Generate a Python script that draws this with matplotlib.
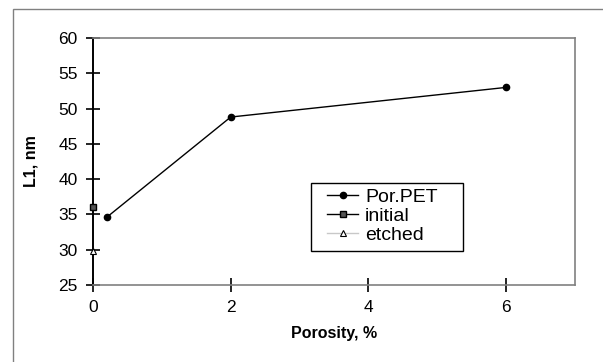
import matplotlib.pyplot as plt
import matplotlib.patches as patches

plt.rcParams['font.family'] = ['Liberation Sans', 'DejaVu Sans']

por_x = [0.2, 2, 6]
por_y = [34.6, 48.8, 53.0]
init_x = [0]
init_y = [36.0]
etch_x = [0]
etch_y = [29.8]

xticks = [0, 2, 4, 6]
yticks = [25, 30, 35, 40, 45, 50, 55, 60]

fig = plt.figure(figsize=(6.03, 3.62), dpi=100)
# outer chart frame, runs off the right and bottom edges
fig.patches.append(patches.Rectangle((12.5/603, -10/362), 620/603, (362 - 9.5 + 10)/362,
                                     transform=fig.transFigure, fill=False,
                                     edgecolor='#808080', lw=1))
ax = fig.add_axes([93/603, 77/362, 482/603, 247/362])

ax.plot(por_x, por_y, color='black', lw=1, marker='o', ms=4.5, label='Por.PET', clip_on=False)
ax.plot(init_x, init_y, color='black', lw=1, marker='s', ms=5, mfc='#555555', mec='black',
        label='initial', clip_on=False, zorder=5)
ax.plot(etch_x, etch_y, color='#c8c8c8', lw=1, marker='^', ms=5, mfc='white', mec='black',
        mew=0.8, label='etched', clip_on=False, zorder=5)

ax.set_xlim(0, 7)
ax.set_ylim(25, 60)
ax.set_xticks(xticks)
ax.set_yticks(yticks)
ax.tick_params(direction='inout', length=10, width=1.2, labelsize=12.5, pad=6, color='black')

for s in ['top', 'right', 'bottom']:
    ax.spines[s].set_color('#808080')
    ax.spines[s].set_linewidth(1.2)
ax.spines['left'].set_color('black')
ax.spines['left'].set_linewidth(1.4)

ax.set_xlabel('Porosity, %', fontsize=11.5, fontweight='bold', labelpad=8)
ax.set_ylabel('L1, nm', fontsize=11.5, fontweight='bold', labelpad=14)

# legend box drawn separately, Excel-style wide padding
ax.add_patch(patches.Rectangle((218/482, 34/247), 152/482, 68/247, transform=ax.transAxes,
                               fill=True, facecolor='white', edgecolor='black', lw=1, zorder=6))
leg = ax.legend(loc='upper left', bbox_to_anchor=(234/482, 97/247), borderaxespad=0,
                fontsize=14, frameon=False, handlelength=1.6, borderpad=0,
                labelspacing=0.07, handletextpad=0.36)
leg.set_zorder(7)

fig.savefig('out.png', dpi=100)
